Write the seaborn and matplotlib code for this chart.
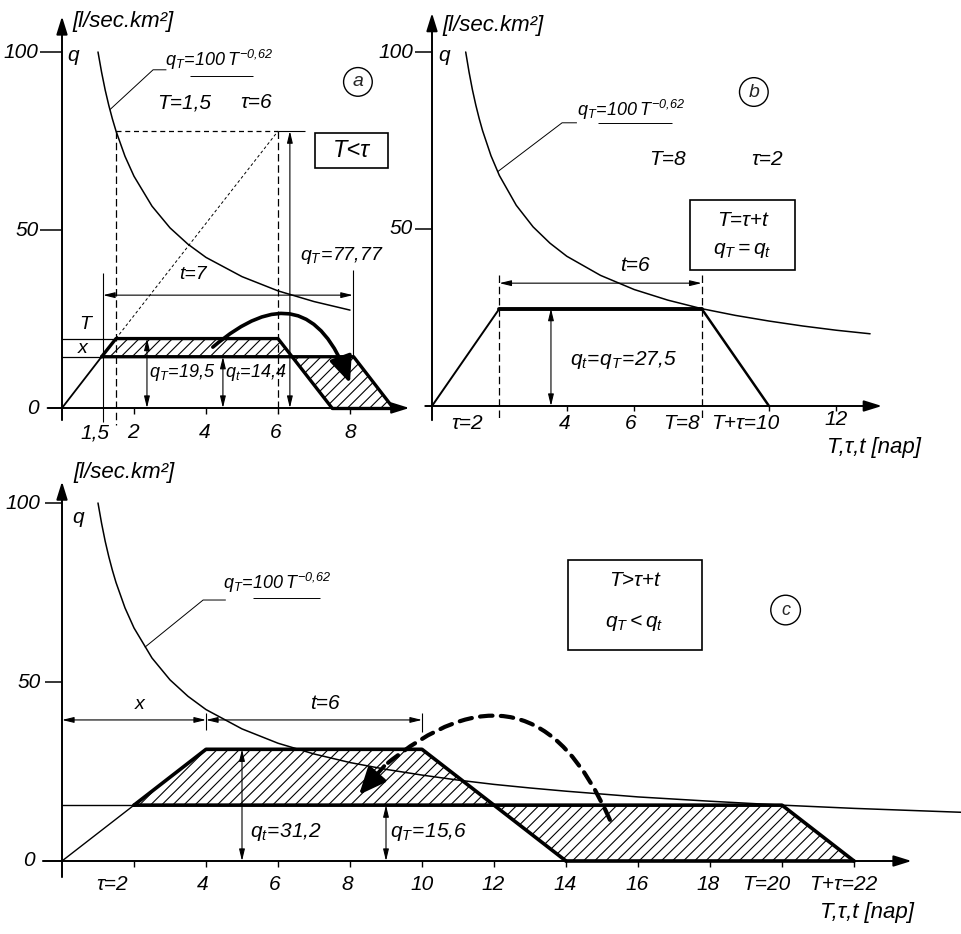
import numpy as np
import pandas as pd
import matplotlib
matplotlib.use("Agg")
import matplotlib.pyplot as plt
import seaborn as sns
from matplotlib.patches import FancyArrowPatch, Rectangle
from matplotlib import font_manager as fm

# ---------------- data ----------------
# q_T = 100 T^-0.62 curve, sampled points
curve_T = [1.0, 1.1, 1.2, 1.3, 1.4, 1.5, 1.75, 2.0, 2.5, 3.0, 3.5, 4.0, 5.0, 6.0,
           7.0, 8.0, 9.0, 10.0, 11.0, 12.0, 13.0, 14.0, 16.0, 18.0, 20.0, 22.0, 25.0]
curve_q = [100.0, 94.3, 89.3, 85.0, 81.2, 77.8, 70.7, 65.1, 56.7, 50.6, 46.0, 42.3, 36.9, 32.9,
           29.9, 27.5, 25.6, 24.0, 22.6, 21.4, 20.4, 19.5, 17.9, 16.7, 15.6, 14.7, 13.6]

# panel a  (T=1.5, tau=6, t=7)
a_T, a_tau, a_t = 1.5, 6.0, 7.0
a_qT, a_qt, a_qpeak = 19.5, 14.4, 77.77
a_upper_x = [1.1, 1.5, 6.0, 6.4]
a_upper_q = [14.4, 19.5, 19.5, 14.4]
a_lower_x = [6.4, 7.5, 9.2, 8.1]
a_lower_q = [14.4, 0.0, 0.0, 14.4]
a_tick_pos = [2, 4, 6, 8]
a_label_pos = [0.92, 1.97, 3.97, 5.94, 8.0]
a_label_txt = ["1,5", "2", "4", "6", "8"]

# panel b  (T=8, tau=2, t=6)
b_T, b_tau, b_t, b_q = 8.0, 2.0, 6.0, 27.5
b_hydro_x = [0.0, 2.0, 8.0, 10.0]
b_hydro_q = [0.0, 27.5, 27.5, 0.0]
b_tick_pos = [4, 6, 10, 12]
b_label_pos = [1.04, 3.95, 5.88, 7.39, 9.29, 12.0]
b_label_txt = ["τ=2", "4", "6", "T=8", "T+τ=10", "12"]

# panel c  (T=20, tau=2, t=6)
c_T, c_tau, c_t = 20.0, 2.0, 6.0
c_qt, c_qT = 31.2, 15.6
c_upper_x = [2.0, 4.0, 10.0, 12.0]
c_upper_q = [15.6, 31.2, 31.2, 15.6]
c_lower_x = [12.0, 14.0, 22.0, 20.0]
c_lower_q = [15.6, 0.0, 0.0, 15.6]
c_tick_pos = [2, 4, 6, 8, 10, 12, 14, 16, 18, 20, 22]
c_label_pos = [1.4, 3.92, 5.92, 7.92, 10.0, 11.97, 13.97, 15.97, 17.94, 19.55, 21.69]
c_label_txt = ["τ=2", "4", "6", "8", "10", "12", "14", "16", "18", "T=20", "T+τ=22"]

y_ticks = [100, 50]

# ---------------- style ----------------
sns.set_theme(style="white")
names = {f.name for f in fm.fontManager.ttflist}
FAM = "Liberation Sans Narrow" if "Liberation Sans Narrow" in names else "Liberation Sans"
plt.rcParams["font.family"] = [FAM, "DejaVu Sans"]
plt.rcParams["font.style"] = "italic"
plt.rcParams["mathtext.fontset"] = "custom"
plt.rcParams["mathtext.it"] = FAM + ":italic"
plt.rcParams["mathtext.rm"] = FAM + ":italic"
plt.rcParams["mathtext.default"] = "it"
plt.rcParams["hatch.linewidth"] = 0.8
plt.rcParams["hatch.color"] = "black"

W, H = 961, 934
fig = plt.figure(figsize=(W / 100, H / 100), dpi=100)
fig.patch.set_facecolor("white")


def panel(px_l, px_r, px_t, px_b, x0, sx, y0, sy):
    ax = fig.add_axes([px_l / W, 1 - px_b / H, (px_r - px_l) / W, (px_b - px_t) / H])
    ax.set_xlim((px_l - x0) / sx, (px_r - x0) / sx)
    ax.set_ylim((y0 - px_b) / sy, (y0 - px_t) / sy)
    ax.axis("off")
    ax.patch.set_visible(False)
    return ax


axA = panel(0, 425, 0, 450, 62, 36, 408, 3.56)
axB = panel(370, 961, 0, 460, 432, 33.7, 406, 3.54)
axC = panel(0, 961, 460, 934, 62, 36, 861, 3.58)

K = "black"


def txt(ax, x, y, s, size=14, ha="center", va="center"):
    ax.text(x, y, s, fontsize=size, ha=ha, va=va, style="italic", color=K, clip_on=False)


def dim(ax, p1, p2, lw=0.8):
    ax.annotate("", xy=p2, xytext=p1,
                arrowprops=dict(arrowstyle="<|-|>,head_length=0.7,head_width=0.17",
                                lw=lw, color=K, shrinkA=0, shrinkB=0, mutation_scale=10))


def axis_arrow(ax, p1, p2):
    ax.annotate("", xy=p2, xytext=p1,
                arrowprops=dict(arrowstyle="-|>,head_length=0.9,head_width=0.28",
                                lw=1.4, color=K, shrinkA=0, shrinkB=0, mutation_scale=12))


def seg(ax, xs, ys, lw=1.0, ls="-"):
    sns.lineplot(x=list(xs), y=list(ys), ax=ax, color=K, lw=lw, linestyle=ls,
                 sort=False, estimator=None, legend=False)


def hatch(ax, xs, ys):
    ax.fill(xs, ys, facecolor="none", edgecolor=K, hatch="///", lw=0)


def curve(ax, tmax):
    df = pd.DataFrame({"T": curve_T, "q": curve_q})
    df = df[df["T"] <= tmax]
    sns.lineplot(data=df, x="T", y="q", ax=ax, color=K, lw=1.1, sort=False,
                 estimator=None, legend=False)


def plain(ax, xs, ys, lw=0.8, ls="-"):
    ax.plot(xs, ys, color=K, lw=lw, ls=ls, solid_capstyle="butt")


EQ = r"$q_T\!=\!100\,T^{-0{,}62}$"
BIGHEAD = "-|>,head_length=1.15,head_width=0.5"

# ======================= panel a =======================
ax = axA
hatch(ax, a_upper_x, a_upper_q)
hatch(ax, a_lower_x, a_lower_q)
axis_arrow(ax, (0, -3.4), (0, 110))
axis_arrow(ax, (-0.4, 0), (9.65, 0))
for v in y_ticks:
    plain(ax, [-0.6, 0], [v, v], lw=1.1)
    txt(ax, -0.65, v, str(v), size=15, ha="right")
txt(ax, -0.65, 0, "0", size=15, ha="right")
for p in a_tick_pos:
    plain(ax, [p, p], [0, -1.6], lw=1.0)
for p, s in zip(a_label_pos, a_label_txt):
    txt(ax, p, -7.0, s, size=15)
txt(ax, 0.3, 108.5, "[l/sec.km²]", size=16, ha="left")
txt(ax, 0.15, 99.0, "q", size=15, ha="left")
curve(ax, 8.0)
# dashed construction lines
seg(ax, [a_T, a_T], [a_qpeak, -4.8], lw=0.9, ls=(0, (6, 3)))
seg(ax, [a_tau, a_tau], [a_qpeak, -1.5], lw=0.9, ls=(0, (6, 3)))
seg(ax, [a_T, a_tau], [a_qpeak, a_qpeak], lw=0.9, ls=(0, (4, 3)))
seg(ax, [a_T, a_tau], [a_qT, a_qpeak], lw=0.7, ls=(0, (3, 2.5)))
plain(ax, [a_tau, 6.75], [a_qpeak, a_qpeak])
dim(ax, (6.33, 0), (6.33, a_qpeak))
txt(ax, 6.6, 42.7, r"$q_T\!=\!77{,}77$", size=14, ha="left")
# rising limb + level lines
seg(ax, [0, a_upper_x[0]], [0, a_qt], lw=1.3)
seg(ax, [0, a_T], [a_qT, a_qT], lw=0.9)
seg(ax, [0, a_upper_x[0]], [a_qt, a_qt], lw=0.9)
txt(ax, 0.64, 23.5, "T", size=14)
txt(ax, 0.56, 16.8, "x", size=14)
# thick outlines
seg(ax, [a_upper_x[0], a_upper_x[1], a_upper_x[2], a_lower_x[1]],
    [a_upper_q[0], a_upper_q[1], a_upper_q[2], a_lower_q[1]], lw=2.4)
seg(ax, [a_upper_x[0], a_lower_x[3], a_lower_x[2]], [a_qt, a_qt, 0], lw=2.4)
seg(ax, [a_lower_x[1], a_lower_x[2]], [0, 0], lw=2.4)
# t = 7 dimension
dim(ax, (1.14, 31.7), (1.14 + a_t - 0.06, 31.7))
plain(ax, [1.14, 1.14], [38.0, -4.0])
plain(ax, [8.08, 8.08], [38.8, a_qt])
txt(ax, 3.64, 37.4, "t=7", size=14)
# q arrows
dim(ax, (2.36, 0), (2.36, a_qT))
txt(ax, 2.42, 10.1, r"$q_T\!=\!19{,}5$", size=13, ha="left")
dim(ax, (4.47, 0), (4.47, a_qt))
txt(ax, 4.52, 10.1, r"$q_t\!=\!14{,}4$", size=13, ha="left")
# big curved arrow
ax.add_patch(FancyArrowPatch((4.19, 17.1), (8.0, 7.0), connectionstyle="arc3,rad=-0.72",
                             arrowstyle=BIGHEAD, shrinkA=0, shrinkB=0,
                             mutation_scale=14, lw=2.6, color=K))
# equation + leader
txt(ax, 2.86, 97.8, EQ, size=13, ha="left")
plain(ax, [3.56, 5.3], [93.3, 93.3], lw=0.7)
plain(ax, [1.33, 2.53, 2.9], [83.8, 95.0, 95.0], lw=0.7)
txt(ax, 2.64, 85.7, "T=1,5", size=15, ha="left")
txt(ax, 4.94, 85.7, "τ=6", size=15, ha="left")
ax.text(8.22, 91.6, "a", fontsize=14, ha="center", va="center", style="italic",
        bbox=dict(boxstyle="circle,pad=0.3", fc="none", ec=K, lw=1.0))
ax.add_patch(Rectangle((7.03, 67.4), 2.03, 9.8, fc="none", ec=K, lw=1.2))
txt(ax, 8.05, 72.3, "T<τ", size=17)

# ======================= panel b =======================
ax = axB
axis_arrow(ax, (0, -4.0), (0, 111))
axis_arrow(ax, (-0.2, 0), (13.35, 0))
for v in y_ticks:
    plain(ax, [-0.5, 0], [v, v], lw=1.1)
    txt(ax, -0.56, v, str(v), size=15, ha="right")
for p in b_tick_pos:
    plain(ax, [p, p], [0, -1.5], lw=1.0)
for p, s in zip(b_label_pos, b_label_txt):
    txt(ax, p, -4.9 if s != "12" else -3.9, s, size=15)
txt(ax, 11.72, -11.6, "T,τ,t [nap]", size=16, ha="left")
txt(ax, 0.3, 107.6, "[l/sec.km²]", size=16, ha="left")
txt(ax, 0.2, 99.0, "q", size=15, ha="left")
curve(ax, 13.0)
seg(ax, [b_tau, b_tau], [37.0, -3.5], lw=0.9, ls=(0, (6, 3)))
seg(ax, [b_T, b_T], [37.0, -3.5], lw=0.9, ls=(0, (6, 3)))
seg(ax, b_hydro_x[:2], b_hydro_q[:2], lw=1.4)
seg(ax, b_hydro_x[1:3], b_hydro_q[1:3], lw=2.8)
seg(ax, b_hydro_x[2:], b_hydro_q[2:], lw=1.8)
dim(ax, (b_tau, 34.7), (b_T, 34.7))
txt(ax, 6.02, 39.8, "t=6", size=15)
dim(ax, (3.53, 0), (3.53, b_q))
txt(ax, 4.1, 13.0, r"$q_t\!=\!q_T\!=\!27{,}5$", size=15, ha="left")
txt(ax, 4.3, 83.5, EQ, size=13, ha="left")
plain(ax, [4.93, 7.12], [80.0, 80.0], lw=0.7)
plain(ax, [1.95, 3.86, 4.3], [66.2, 80.0, 80.0], lw=0.7)
txt(ax, 7.0, 69.5, "T=8", size=15)
txt(ax, 9.95, 69.5, "τ=2", size=15)
ax.text(9.55, 88.7, "b", fontsize=14, ha="center", va="center", style="italic",
        bbox=dict(boxstyle="circle,pad=0.3", fc="none", ec=K, lw=1.0))
ax.add_patch(Rectangle((7.66, 38.4), 3.11, 19.8, fc="none", ec=K, lw=1.2))
txt(ax, 9.2, 52.5, "T=τ+t", size=15)
txt(ax, 9.2, 44.0, r"$q_T=q_t$", size=15)

# ======================= panel c =======================
ax = axC
hatch(ax, c_upper_x, c_upper_q)
hatch(ax, c_lower_x, c_lower_q)
axis_arrow(ax, (0, -4.5), (0, 106))
axis_arrow(ax, (-0.53, 0), (23.6, 0))
for v in y_ticks:
    plain(ax, [-0.47, 0], [v, v], lw=1.1)
    txt(ax, -0.6, v, str(v), size=15, ha="right")
txt(ax, -0.75, 0, "0", size=15, ha="right")
for p in c_tick_pos:
    plain(ax, [p, p], [0, -1.6], lw=1.0)
for p, s in zip(c_label_pos, c_label_txt):
    txt(ax, p, -6.7, s, size=15)
txt(ax, 21.06, -14.5, "T,τ,t [nap]", size=16, ha="left")
txt(ax, 0.31, 108.4, "[l/sec.km²]", size=16, ha="left")
txt(ax, 0.28, 96.0, "q", size=15, ha="left")
curve(ax, 25.0)
seg(ax, [0, c_tau], [0, c_qT], lw=1.0)
seg(ax, [0, c_tau], [c_qT, c_qT], lw=1.0)
seg(ax, [c_upper_x[0], c_upper_x[1], c_upper_x[2], c_lower_x[1]],
    [c_upper_q[0], c_upper_q[1], c_upper_q[2], c_lower_q[1]], lw=2.6)
seg(ax, [c_upper_x[0], c_lower_x[3], c_lower_x[2]], [c_qT, c_qT, 0], lw=2.6)
seg(ax, [c_lower_x[1], c_lower_x[2]], [0, 0], lw=2.6)
# dimensions x and t
dim(ax, (0, 39.4), (4.0, 39.4))
dim(ax, (4.0, 39.4), (10.0, 39.4))
plain(ax, [4.0, 4.0], [41.3, 36.5])
plain(ax, [10.0, 10.0], [41.3, 36.0])
txt(ax, 2.17, 43.8, "x", size=14)
txt(ax, 7.3, 44.0, "t=6", size=15)
dim(ax, (5.0, 0), (5.0, c_qt))
txt(ax, 5.22, 8.1, r"$q_t\!=\!31{,}2$", size=15, ha="left")
dim(ax, (9.0, 0), (9.0, c_qT))
txt(ax, 9.12, 8.1, r"$q_T\!=\!15{,}6$", size=15, ha="left")
# dashed transfer arrow
ax.add_patch(FancyArrowPatch((15.22, 11.5), (8.92, 26.3), connectionstyle="arc3,rad=0.665",
                             arrowstyle="-", lw=3.0, color=K, linestyle=(0, (3, 2)),
                             shrinkA=0, shrinkB=0))
ax.annotate("", xy=(8.25, 18.5), xytext=(8.95, 26.5),
            arrowprops=dict(arrowstyle=BIGHEAD,
                            lw=2.8, color=K, shrinkA=0, shrinkB=0, mutation_scale=14))
# equation + leader
txt(ax, 4.47, 77.7, EQ, size=13, ha="left")
plain(ax, [5.3, 7.17], [73.5, 73.5], lw=0.7)
plain(ax, [2.3, 3.92, 4.55], [59.7, 72.9, 72.9], lw=0.7)
ax.add_patch(Rectangle((14.06, 58.9), 3.72, 25.2, fc="none", ec=K, lw=1.2))
txt(ax, 15.9, 78.3, "T>τ+t", size=15)
txt(ax, 15.9, 66.5, r"$q_T<q_t$", size=15)
ax.text(20.1, 70.1, "c", fontsize=13, ha="center", va="center", style="italic",
        bbox=dict(boxstyle="circle,pad=0.35", fc="none", ec=K, lw=1.0))

fig.savefig("out.png", dpi=100)
